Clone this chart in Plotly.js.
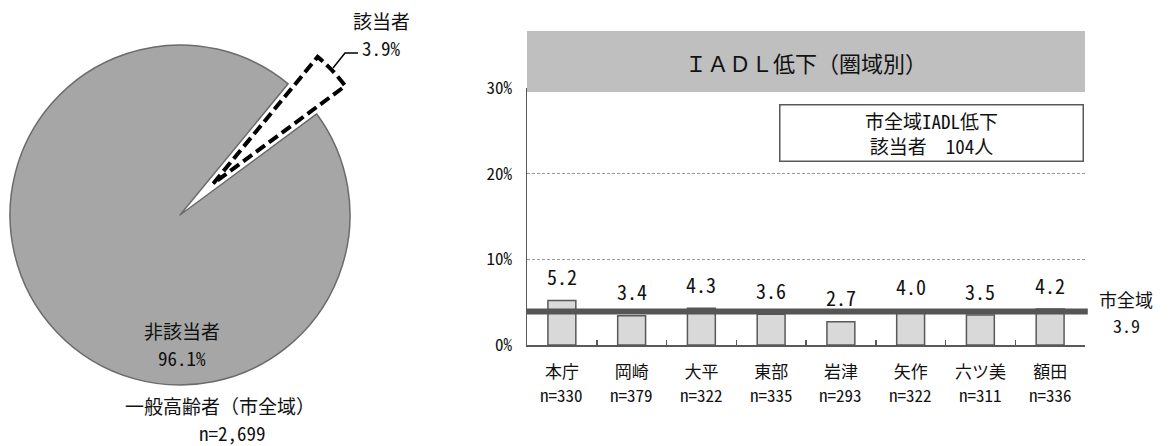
<!DOCTYPE html>
<html>
<head>
<meta charset="utf-8">
<script src="https://cdn.plot.ly/plotly-3.0.1.min.js"></script>
<style>
  html, body { margin: 0; padding: 0; background: #ffffff; }
  #chart { width: 1170px; height: 446px; }
</style>
</head>
<body>
<div id="chart"></div>
<script>
// ---- data -------------------------------------------------------------
// City-wide share of elderly with reduced IADL
const pieLabels = ['該当者', '非該当者'];
const pieValues = [3.9, 96.1];
const pieTotalN = '2,699';

// Share by area (%)
const areas = ['本庁', '岡崎', '大平', '東部', '岩津', '矢作', '六ツ美', '額田'];
const areaN = [330, 379, 322, 335, 293, 322, 311, 336];
const areaRates = [5.2, 3.4, 4.3, 3.6, 2.7, 4.0, 3.5, 4.2];
const cityRate = 3.9;
const cityCount = 104;
const yTicks = [0, 10, 20, 30];

// ---- layout helpers ---------------------------------------------------
const W = 1170, H = 446;
const fx = x => x / W;           // pixel -> paper x
const fy = y => 1 - y / H;       // pixel -> paper y
const FONT = "'Noto Sans Mono CJK JP', 'Noto Sans CJK JP', sans-serif";
const INK = '#111111';

// pie geometry
const pieCx = 180, pieCy = 215, pieR = 170;
const rotation = 39.5;
const pullFrac = 0.27;
const sliceR = 164;
const total = pieValues.reduce((a, b) => a + b, 0);
const midAngle = (rotation + 360 * (pieValues[0] / 2) / total) * Math.PI / 180;
const offX = pullFrac * pieR * Math.sin(midAngle);
const offY = -pullFrac * pieR * Math.cos(midAngle);
const sCx = pieCx + offX, sCy = pieCy + offY;

const CLEAR = 'rgba(0,0,0,0)';

const pieBase = {
  type: 'pie',
  labels: pieLabels,
  values: pieValues,
  sort: false,
  direction: 'clockwise',
  rotation: rotation,
  textinfo: 'none',
  hoverinfo: 'skip',
  showlegend: false
};

const pieMain = Object.assign({}, pieBase, {
  marker: { colors: [CLEAR, '#a6a6a6'], line: { color: [CLEAR, '#6b6b6b'], width: 1.5 } },
  domain: { x: [fx(pieCx - pieR), fx(pieCx + pieR)], y: [fy(pieCy + pieR), fy(pieCy - pieR)] }
});

const pieSlice = Object.assign({}, pieBase, {
  marker: { colors: ['#ffffff', CLEAR], line: { color: ['#000000', CLEAR], width: 4 } },
  domain: { x: [fx(sCx - sliceR), fx(sCx + sliceR)], y: [fy(sCy + sliceR), fy(sCy - sliceR)] }
});

const bars = {
  type: 'bar',
  x: areas,
  y: areaRates,
  xaxis: 'x', yaxis: 'y',
  marker: { color: '#d9d9d9', line: { color: '#595959', width: 1.5 } },
  hoverinfo: 'skip',
  showlegend: false
};

// ---- annotations ------------------------------------------------------
const annotations = [];
function label(x, y, text, size, extra) {
  annotations.push(Object.assign({
    xref: 'paper', yref: 'paper', x: fx(x), y: fy(y), text: text,
    showarrow: false, font: { family: FONT, size: size, color: INK },
    xanchor: 'center', yanchor: 'middle'
  }, extra || {}));
}

// pie labels
label(381, 20, pieLabels[0], 19);
label(381, 48, pieValues[0].toFixed(1) + '%', 19);
label(182, 330, pieLabels[1], 19);
label(182, 357, pieValues[1].toFixed(1) + '%', 19);
label(220, 405, '一般高齢者（市全域）', 19);
label(233, 432, 'n=' + pieTotalN, 19);

// chart title inside grey band
annotations.push({
  xref: 'x domain', yref: 'paper', x: 0.5, y: fy(62),
  text: 'ＩＡＤＬ低下（圏域別）',
  showarrow: false, font: { family: FONT, size: 22, color: INK },
  xanchor: 'center', yanchor: 'middle'
});

// city-wide count box
label(932, 133.5, '市全域IADL低下<br>該当者　' + cityCount + '人', 19, {
  width: 300, height: 53,
  bgcolor: '#ffffff', bordercolor: '#595959', borderwidth: 1.5, borderpad: 1
});

// value labels above each bar
areas.forEach((a, i) => {
  annotations.push({
    xref: 'x', yref: 'y', x: a, y: areaRates[i],
    text: areaRates[i].toFixed(1),
    showarrow: false, yshift: 24,
    font: { family: FONT, size: 20, color: INK },
    xanchor: 'center', yanchor: 'middle'
  });
});

// sample size under each area name
areas.forEach((a, i) => {
  annotations.push({
    xref: 'x', yref: 'paper', x: a, y: fy(394),
    text: 'n=' + areaN[i],
    showarrow: false,
    font: { family: FONT, size: 17, color: INK },
    xanchor: 'center', yanchor: 'middle'
  });
});

// city-wide reference label, two lines either side of the line level
[['市全域', 13], [cityRate.toFixed(1), -13]].forEach(([t, dy]) => {
  annotations.push({
    xref: 'paper', yref: 'y', x: fx(1126), y: cityRate, yshift: dy,
    text: t,
    showarrow: false, font: { family: FONT, size: 18, color: INK },
    xanchor: 'center', yanchor: 'middle'
  });
});

// ---- shapes -----------------------------------------------------------
const shapes = [
  // grey title band
  { type: 'rect', xref: 'x domain', yref: 'paper', x0: 0, x1: 1, y0: fy(92), y1: fy(31),
    fillcolor: '#bfbfbf', line: { width: 0 }, layer: 'above' },
  // city-wide reference line
  { type: 'line', xref: 'x domain', yref: 'y', x0: 0, x1: 1.005, y0: cityRate, y1: cityRate,
    line: { color: '#555555', width: 6 }, layer: 'above' },
  // leader line for the pulled slice label
  { type: 'path', xref: 'paper', yref: 'paper',
    path: `M ${fx(333)} ${fy(68)} L ${fx(345)} ${fy(53)} L ${fx(358)} ${fy(53)}`,
    line: { color: '#000000', width: 1.5 } }
];

const layout = {
  width: W, height: H,
  margin: { l: 0, r: 0, t: 0, b: 0 },
  paper_bgcolor: '#ffffff', plot_bgcolor: '#ffffff',
  showlegend: false,
  hovermode: false,
  bargap: 0.6,
  font: { family: FONT, color: INK },
  xaxis: {
    domain: [fx(527), fx(1085)],
    anchor: 'y',
    type: 'category',
    tickvals: areas,
    ticktext: areas,
    tickfont: { family: FONT, size: 17, color: INK },
    ticks: 'inside', tickson: 'boundaries', ticklen: 5, tickwidth: 1.5, tickcolor: '#595959',
    ticklabelstandoff: 11,
    showline: true, linecolor: '#595959', linewidth: 2,
    showgrid: false, zeroline: false, fixedrange: true
  },
  yaxis: {
    domain: [fy(345), fy(88)],
    anchor: 'x',
    range: [0, 30],
    tickvals: yTicks,
    ticktext: yTicks.map(v => v + '%'),
    tickfont: { family: FONT, size: 17, color: INK },
    ticks: '', ticklabelstandoff: 10,
    showline: true, linecolor: '#595959', linewidth: 1.5,
    showgrid: true, gridcolor: '#9a9a9a', gridwidth: 1, griddash: '3px,2px',
    zeroline: false, fixedrange: true
  },
  annotations: annotations,
  shapes: shapes
};

Plotly.newPlot('chart', [pieMain, pieSlice, bars], layout, { displayModeBar: false, staticPlot: true })
  .then(() => {
    // dashed outline for the pulled-out slice
    const traces = document.querySelectorAll('.pielayer .trace');
    if (traces.length > 1) {
      const p = traces[1].querySelectorAll('path.surface')[0];
      if (p) {
        p.style.strokeDasharray = '11,5';
        p.style.strokeLinejoin = 'miter';
      }
    }
  });
</script>
</body>
</html>
